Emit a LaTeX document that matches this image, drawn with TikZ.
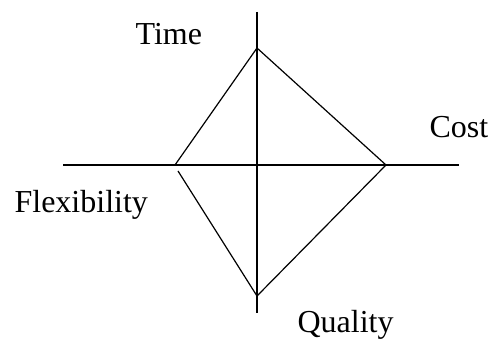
\documentclass[tikz,border=0pt]{standalone}
\usepackage{fontspec}
\setmainfont{Liberation Serif}
\begin{document}
\begin{tikzpicture}[x=1pt,y=-1pt,line width=1.2pt,
  lbl/.style={anchor=base west,inner sep=0pt,font=\fontsize{32}{32}\selectfont}]
\useasboundingbox (0,0) rectangle (493,339);
% axes
\coordinate (vt) at (257,12);
\coordinate (vb) at (257,313);
\coordinate (hl) at (63,165);
\coordinate (hr) at (459,165);
\draw (vt) -- (vb);
\draw (hl) -- (hr);
% diamond
\coordinate (top) at (257,48);
\coordinate (right) at (386,165);
\coordinate (bottom) at (257,296);
\coordinate (left) at (175,165);
\coordinate (leftlow) at (178,171);
\draw (left) -- (top) -- (right) -- (bottom) -- (leftlow);
% labels
\node[lbl] (time) at (135,45) {Time};
\node[lbl] (cost) at (429,138) {Cost};
\node[lbl] (flex) at (14,213) {Flexibility};
\node[lbl] (qual) at (297,333) {Quality};
\end{tikzpicture}
\end{document}
